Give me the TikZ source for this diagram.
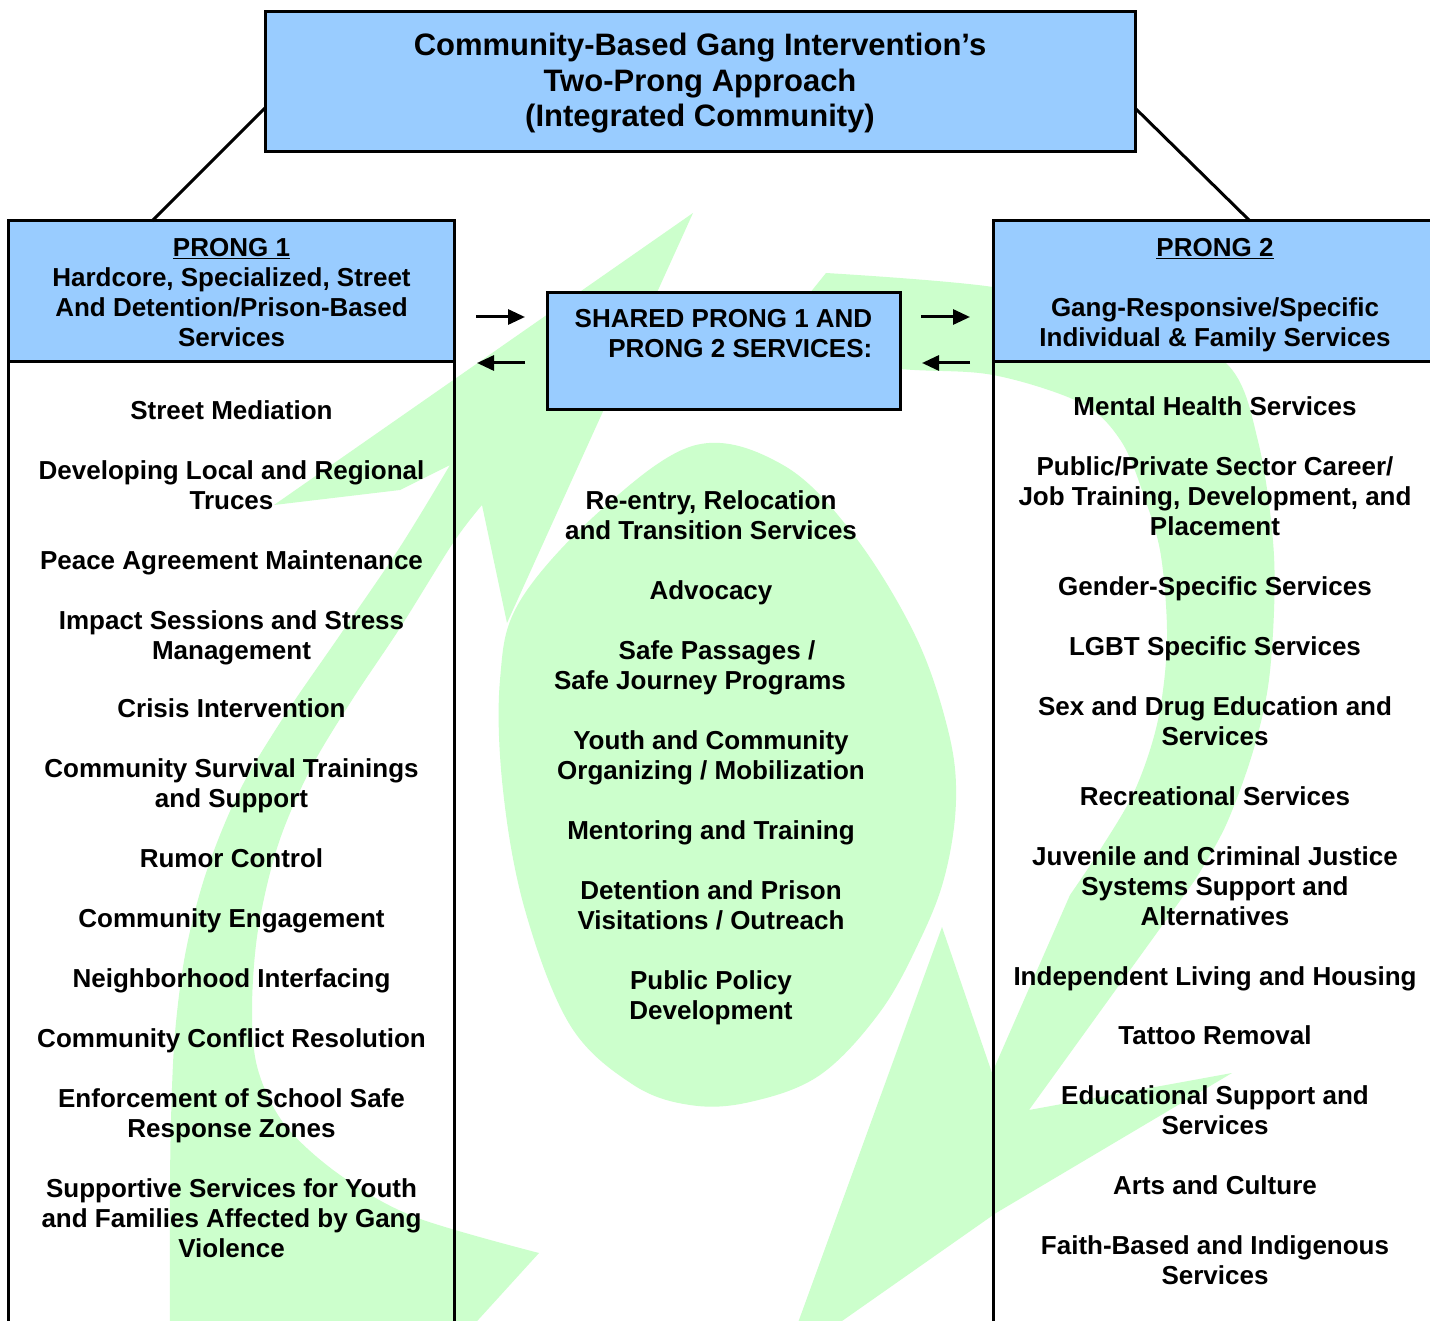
\documentclass[tikz,border=0pt]{standalone}
\usepackage{fontspec}
\setmainfont{Liberation Sans}
\usetikzlibrary{arrows.meta}
\definecolor{hdrblue}{RGB}{153,204,255}
\definecolor{palegreen}{RGB}{204,255,204}
\newcommand\itemfont{\fontsize{26}{30}\selectfont\bfseries}
\newcommand\titlefont{\fontsize{31}{35.5}\selectfont\bfseries}
\begin{document}
\begin{tikzpicture}[x=1pt,y=-1pt,
  box/.style={draw=black, line width=3pt, fill=hdrblue, inner sep=0pt, outer sep=0pt},
  body/.style={line width=3pt},
  item/.style={font=\itemfont, align=center, inner sep=0pt, anchor=north},
  link/.style={line width=3pt},
  arr/.style={line width=3pt, -{Triangle[length=17pt,width=15pt]}},
  blobfill/.style={fill=palegreen}
]
\useasboundingbox (0,0) rectangle (1430,1321);
\fill[white] (0,0) rectangle (1430,1321);

% green background arrows
\begin{scope}
\clip (0,0) rectangle (1430,1321);
% left arrow
\fill[blobfill] (469,1330) -- (539,1253)
  -- plot[smooth, tension=0.55] coordinates {(539,1253) (415,1217) (340,1175) (285,1125) (258,1070) (252,1010) (258,930) (278,845) (310,770) (352,700) (400,628) (453,543) (482,505)}
  -- (507,623) -- (693,213) -- (274,505) -- (400,490) -- (450,465)
  -- plot[smooth, tension=0.55] coordinates {(450,465) (400,547) (340,635) (285,715) (240,790) (207,870) (186,950) (175,1033) (171,1120) (170,1200) (170,1330)}
  -- cycle;
% right arrow
\fill[blobfill] (826,273) -- (760,355)
  -- plot[smooth, tension=0.55] coordinates {(760,355) (900,369) (993,375) (1081,403) (1121,441) (1145,499) (1161,556) (1167,640) (1158,720) (1135,790) (1100,850) (1070,895)}
  -- (992,1073) -- (942,927) -- (783,1364) -- (842,1321) -- (996,1213) -- (1232,1073) -- (1029,1110) -- (1195,880)
  -- plot[smooth, tension=0.55] coordinates {(1195,880) (1226,825) (1254,748) (1270,671) (1274,556) (1258,441) (1226,363) (1130,318) (993,287) (826,273)}
  -- cycle;
% central blob
\fill[blobfill] plot[smooth cycle, tension=0.6] coordinates {(696,445) (783,465) (853,534) (915,635) (948,730) (956,800) (945,875) (920,940) (880,1012) (820,1075) (750,1102) (690,1105) (632,1084) (570,1025) (525,910) (503,790) (500,680) (520,601) (601,510)};
\end{scope}

% header boxes
\node[box, minimum width=446pt, minimum height=141pt, font=\itemfont, align=center] (prong1) at (231.5,291.5)
  {\strut\underline{PRONG 1}\\Hardcore, Specialized, Street\\And Detention/Prison-Based\\\smash{Services}};
\node[box, minimum width=444pt, minimum height=141pt, font=\itemfont, align=center] (prong2) at (1215,291.5)
  {\strut\underline{PRONG 2}\\\strut\\Gang-Responsive/Specific\\\smash{Individual \& Family Services}};

\coordinate (bot) at (0,1321);
\draw[body] (prong1.south west) -- (prong1.south west |- bot);
\draw[body] (prong1.south east) -- (prong1.south east |- bot);
\draw[body] (prong2.south west) -- (prong2.south west |- bot);

\node[box, minimum width=353pt, minimum height=117pt, font=\itemfont, align=right] (shared) at (723.5,351.5)
  {\strut SHARED PRONG 1 AND\\PRONG 2 SERVICES:\\\strut};

\node[box, minimum width=870pt, minimum height=140pt, font=\titlefont, align=center] (title) at (700,82)
  {\strut Community-Based Gang Intervention’s\\Two-Prong Approach\\(Integrated Community)};

% connectors
\draw[link] ([yshift=-26pt]title.west) -- ([xshift=-79.5pt]prong1.north);
\draw[link] ([yshift=-26pt]title.east) -- ([xshift=35pt]prong2.north);

\coordinate (ya) at (0,317);
\coordinate (yb) at (0,363);
\draw[arr, shorten <=21.5pt, shorten >=22pt] (prong1.east |- ya) -- (shared.west |- ya);
\draw[arr, shorten <=22pt, shorten >=22.5pt] (shared.west |- yb) -- (prong1.east |- yb);
\draw[arr, shorten <=21pt, shorten >=23pt] (shared.east |- ya) -- (prong2.west |- ya);
\draw[arr, shorten <=23pt, shorten >=22pt] (prong2.west |- yb) -- (shared.east |- yb);

% left column
\node[item] (l1) at (231.5,398) {\strut Street Mediation};
\node[item] (l2) at (231.5,458) {\strut Developing Local and Regional\\Truces};
\node[item] (l3) at (231.5,548) {\strut Peace Agreement Maintenance};
\node[item] (l4) at (231.5,608) {\strut Impact Sessions and Stress\\Management};
\node[item] (l5) at (231.5,696) {\strut Crisis Intervention};
\node[item] (l6) at (231.5,756) {\strut Community Survival Trainings\\and Support};
\node[item] (l7) at (231.5,846) {\strut Rumor Control};
\node[item] (l8) at (231.5,906) {\strut Community Engagement};
\node[item] (l9) at (231.5,966) {\strut Neighborhood Interfacing};
\node[item] (l10) at (231.5,1026) {\strut Community Conflict Resolution};
\node[item] (l11) at (231.5,1086) {\strut Enforcement of School Safe\\Response Zones};
\node[item] (l12) at (231.5,1176) {\strut Supportive Services for Youth\\and Families Affected by Gang\\Violence};

% centre column
\node[item] (c1) at (711,488) {\strut Re-entry, Relocation\\and Transition Services};
\node[item] (c2) at (711,578) {\strut Advocacy};
\node[item] (c3) at (708.5,638) {\strut\hspace*{17pt}Safe Passages /\\Safe Journey Programs\hspace*{17pt}};
\node[item] (c4) at (711,728) {\strut Youth and Community\\Organizing / Mobilization};
\node[item] (c5) at (711,818) {\strut Mentoring and Training};
\node[item] (c6) at (711,878) {\strut Detention and Prison\\Visitations / Outreach};
\node[item] (c7) at (711,968) {\strut Public Policy\\Development};

% right column
\node[item] (r1) at (1215,394) {\strut Mental Health Services};
\node[item] (r2) at (1215,454) {\strut Public/Private Sector Career/\\Job Training, Development, and\\Placement};
\node[item] (r3) at (1215,574) {\strut Gender-Specific Services};
\node[item] (r4) at (1215,634) {\strut LGBT Specific Services};
\node[item] (r5) at (1215,694) {\strut Sex and Drug Education and\\Services};
\node[item] (r6) at (1215,784) {\strut Recreational Services};
\node[item] (r7) at (1215,844) {\strut Juvenile and Criminal Justice\\Systems Support and\\Alternatives};
\node[item] (r8) at (1215,964) {\strut Independent Living and Housing};
\node[item] (r9) at (1215,1023) {\strut Tattoo Removal};
\node[item] (r10) at (1215,1083) {\strut Educational Support and\\Services};
\node[item] (r11) at (1215,1173) {\strut Arts and Culture};
\node[item] (r12) at (1215,1233) {\strut Faith-Based and Indigenous\\Services};
\end{tikzpicture}
\end{document}
